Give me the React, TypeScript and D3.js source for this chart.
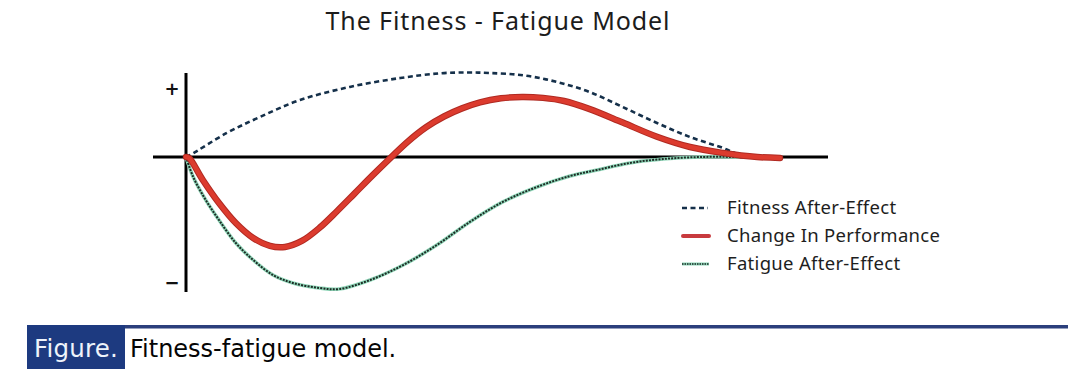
import React from "react";
import * as d3 from "d3";

// time (arbitrary units) and response values
const fitnessT = [0, 0.7, 6.8, 12.3, 19, 27.3, 35.7, 42.3, 47, 50.7, 56.2, 61.8, 67.3, 72.8, 78.5, 84, 89.5, 92.3, 95.7];
const fitnessV = [0, 1.5, 17.8, 29.6, 42.2, 51.9, 58.5, 62, 62.6, 62.2, 60.5, 55.6, 48.1, 37, 25.2, 14.8, 6.7, 1.8, 0];

const performanceT = [0, 0.5, 2.8, 5.5, 8.3, 11.2, 14, 16.5, 19.3, 22.3, 25.2, 28, 31, 34, 37, 40, 43, 46, 49, 52.5, 56, 59.5, 63, 67.3, 72.8, 78.5, 84, 89.5, 95.2, 99];
const performanceV = [0, -0.7, -17, -34.1, -48.9, -60, -65.9, -66.7, -62.2, -52.3, -40, -27.5, -14, -1, 11.5, 22, 30, 36, 40.5, 43.5, 44.5, 43.8, 41.5, 35.5, 25.5, 15, 7.4, 3, 0, -0.7];

const fatigueT = [0, 1.2, 3.3, 5.5, 8.3, 11.2, 14.5, 17.8, 22.2, 25.5, 30.7, 36.2, 41.8, 47.3, 52.8, 58.5, 64, 68.5, 74, 79.5, 85.7, 92.3];
const fatigueV = [0, -14.8, -31.9, -46.7, -63.7, -76.3, -87.4, -93.3, -97, -97.8, -91.1, -80, -65.2, -48.1, -33.3, -22.2, -14.1, -9.6, -4.4, -1.5, 0, 0];

const legendLabels = ["Fitness After-Effect", "Change In Performance", "Fatigue After-Effect"];
const title = "The Fitness - Fatigue Model";
const captionTag = "Figure.";
const captionText = "Fitness-fatigue model.";

const W = 1080;
const H = 386;

export default function App() {
  const x = d3.scaleLinear().domain([0, 100]).range([186, 786]);
  const y = d3.scaleLinear().domain([-100, 100]).range([292, 22]);

  const line = d3
    .line<[number, number]>()
    .x((d) => x(d[0]))
    .y((d) => y(d[1]))
    .curve(d3.curveCatmullRom.alpha(0.5));

  const zip = (t: number[], v: number[]) => t.map((d, i) => [d, v[i]] as [number, number]);
  const fitnessPath = line(zip(fitnessT, fitnessV)) || "";
  const perfPath = line(zip(performanceT, performanceV)) || "";
  const fatiguePath = line(zip(fatigueT, fatigueV)) || "";

  const legendY = [208, 236, 264];

  return (
    <svg
      width={W}
      height={H}
      style={{ position: "absolute", left: 0, top: 0, background: "#fff" }}
    >
      <text
        x={498}
        y={30}
        textAnchor="middle"
        fontFamily="'Noto Sans', sans-serif"
        fontSize={25}
        letterSpacing={0.9}
        fill="#1c1c1c"
      >
        {title}
      </text>

      {/* axes */}
      <line x1={x(0)} x2={x(0)} y1={73} y2={292} stroke="#000" strokeWidth={3} />
      <line x1={x(-5.5)} x2={x(107)} y1={y(0)} y2={y(0)} stroke="#000" strokeWidth={3} />
      <text x={172} y={95} textAnchor="middle" fontFamily="'DejaVu Sans', sans-serif" fontSize={18} fontWeight="bold" fill="#111">+</text>
      <text x={172} y={289} textAnchor="middle" fontFamily="'DejaVu Sans', sans-serif" fontSize={18} fontWeight="bold" fill="#111">−</text>

      {/* fatigue */}
      <path d={fatiguePath} fill="none" stroke="#8fd6b8" strokeWidth={3.6} />
      <path d={fatiguePath} fill="none" stroke="#1d2b25" strokeWidth={2} strokeDasharray="2 1.2" />

      {/* fitness */}
      <path d={fitnessPath} fill="none" stroke="#15304a" strokeWidth={2.6} strokeDasharray="5 3.5" />

      {/* performance */}
      <path d={perfPath} fill="none" stroke="#b02a22" strokeWidth={6.5} strokeLinecap="round" />
      <path d={perfPath} fill="none" stroke="#dc3b2e" strokeWidth={4.5} strokeLinecap="round" />

      {/* legend */}
      <line x1={682} x2={708} y1={legendY[0]} y2={legendY[0]} stroke="#15304a" strokeWidth={2.6} strokeDasharray="5 3.5" />
      <line x1={683} x2={709} y1={legendY[1]} y2={legendY[1]} stroke="#c83a3e" strokeWidth={4} strokeLinecap="round" />
      <line x1={682} x2={709} y1={legendY[2]} y2={legendY[2]} stroke="#8fd6b8" strokeWidth={3} />
      <line x1={682} x2={709} y1={legendY[2]} y2={legendY[2]} stroke="#1d2b25" strokeWidth={1.6} strokeDasharray="1.5 1" />
      {legendLabels.map((l, i) => (
        <text
          key={l}
          x={727}
          y={legendY[i] + 6}
          fontFamily="'Noto Sans', sans-serif"
          fontSize={18.5}
          letterSpacing={0.3}
          fill="#1e1e1e"
        >
          {l}
        </text>
      ))}

      {/* caption */}
      <rect x={27} y={325} width={1041} height={3.5} fill="#2b3f7c" />
      <rect x={27} y={325} width={98} height={44} fill="#1d3a80" />
      <text x={34} y={357} fontFamily="'DejaVu Sans', sans-serif" fontSize={24.5} letterSpacing={0.2} fill="#eef3fb">
        {captionTag}
      </text>
      <text x={130} y={357} fontFamily="'DejaVu Sans', sans-serif" fontSize={24} fill="#050505">
        {captionText}
      </text>
    </svg>
  );
}
